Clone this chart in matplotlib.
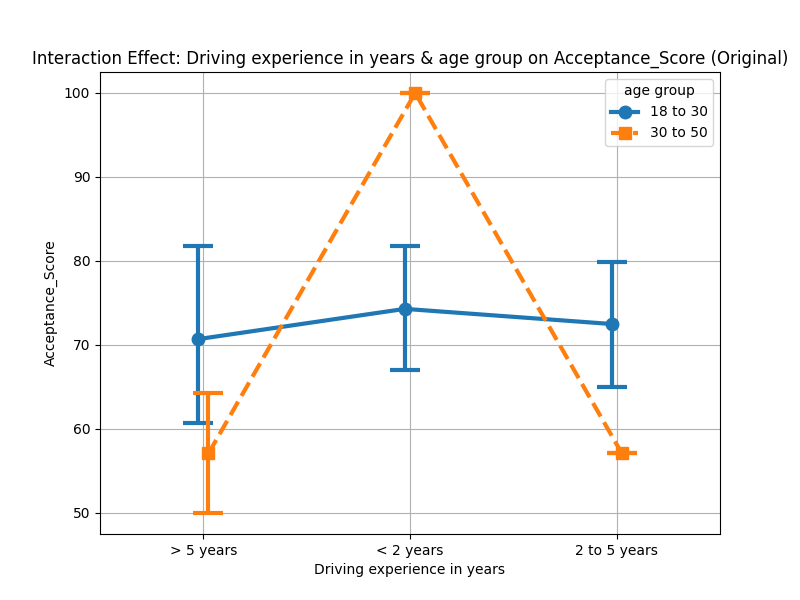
import matplotlib
matplotlib.use('Agg')
import matplotlib.pyplot as plt
import numpy as np

categories = ['> 5 years', '< 2 years', '2 to 5 years']
groups = ['18 to 30', '30 to 50']
means = [[70.7, 74.3, 72.5], [57.1, 100.0, 57.1]]
ci_low = [[60.7, 67.0, 65.0], [50.0, 100.0, 57.1]]
ci_high = [[81.8, 81.8, 79.9], [64.3, 100.0, 57.1]]

colors = ['#1f77b4', '#ff7f0e']
markers = ['o', 's']
styles = ['-', '--']
offsets = [-0.025, 0.025]

fig, ax = plt.subplots(figsize=(8, 6), dpi=100)
x = np.arange(len(categories))
for i, g in enumerate(groups):
    xs = x + offsets[i]
    m = np.array(means[i])
    err = [m - np.array(ci_low[i]), np.array(ci_high[i]) - m]
    ax.errorbar(xs, m, yerr=err, color=colors[i], fmt='none', elinewidth=3,
                capsize=11, capthick=3, zorder=2)
    ax.plot(xs, m, color=colors[i], linestyle=styles[i], marker=markers[i],
            linewidth=3, markersize=9, label=g, zorder=3)

ax.set_xticks(x, categories)
ax.set_xlim(-0.5, 2.5)
ax.set_ylim(47.5, 102.5)
ax.grid(True)
ax.set_axisbelow(True)
ax.set_xlabel('Driving experience in years')
ax.set_ylabel('Acceptance_Score')
ax.set_title('Interaction Effect: Driving experience in years & age group on Acceptance_Score (Original)')
ax.legend(title='age group', loc='upper right')
plt.savefig('out.png')
